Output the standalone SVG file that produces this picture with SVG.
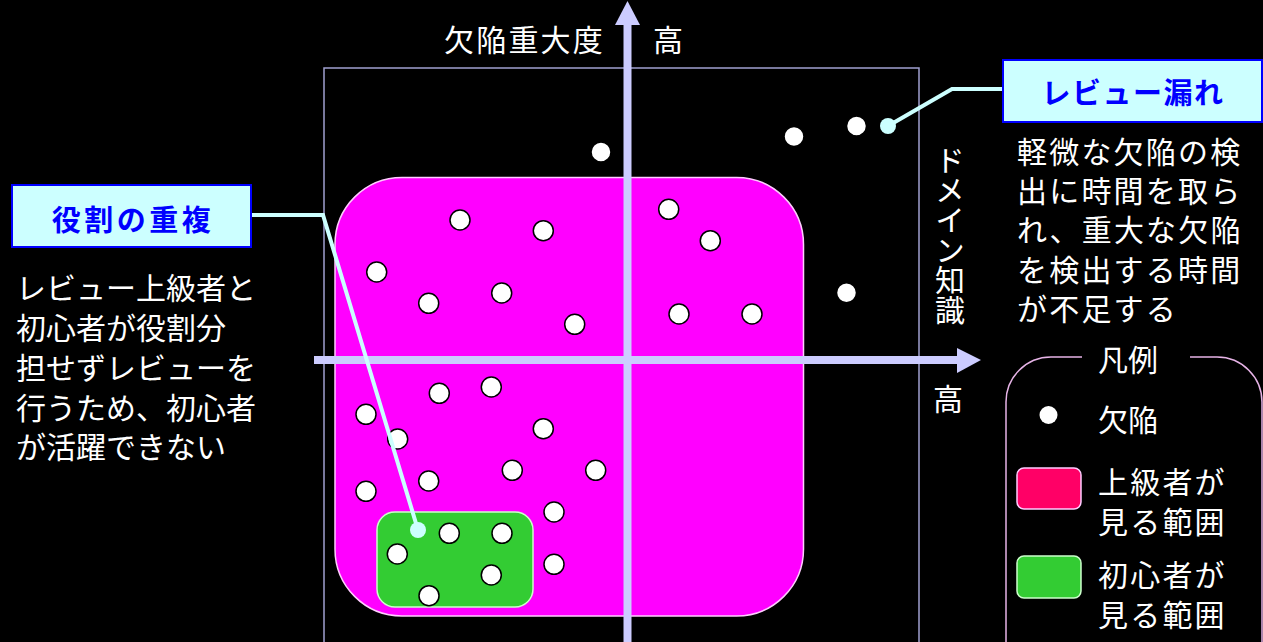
<svg xmlns="http://www.w3.org/2000/svg" width="1263" height="642" viewBox="0 0 1263 642">
<style>
.t{font-family:"Noto Sans CJK JP","Noto Sans",sans-serif;font-size:30px;fill:#ffffff}
.ls{letter-spacing:2.2px}
.ct{font-family:"Noto Sans CJK JP","Noto Sans",sans-serif;font-size:29px;font-weight:bold;fill:#0000ff;text-anchor:middle}
.dot{fill:#ffffff;stroke:#000000;stroke-width:1.5}
.ax{stroke:#ccccff;stroke-width:8;fill:none}
.cl{stroke:#ccffff;stroke-width:4;fill:none}
.cbox{fill:#ccffff;stroke:#0000ff;stroke-width:2}
</style>
<rect width="1263" height="642" fill="#000000"/>
<g id="frame">
<rect x="324" y="68" width="595" height="620" fill="none" stroke="#a0a0d0" stroke-width="1.5"/>
</g>
<g id="senior-range">
<rect x="335" y="177.5" width="468.5" height="438.5" rx="67" ry="67" fill="#ff00ff" stroke="#ffccff" stroke-width="1.5"/>
</g>
<g id="novice-range">
<rect x="377" y="512" width="156" height="95" rx="18" ry="18" fill="#33cc33" stroke="#ccffcc" stroke-width="1.5"/>
</g>
<g id="axes">
<line class="ax" x1="314" y1="360" x2="958" y2="360"/>
<polygon points="957,348 981,360 957,373" fill="#ccccff"/>
<line class="ax" x1="627.5" y1="642" x2="627.5" y2="24"/>
<polygon points="615,25 627.5,1 640,25" fill="#ccccff"/>
</g>
<g id="axis-labels">
<text class="t ls" x="444" y="51">欠陥重大度</text>
<text class="t" x="653" y="51">高</text>
<text class="t" x="950" y="145" style="writing-mode:vertical-rl">ドメイン知識</text>
<text class="t" x="933" y="410">高</text>
</g>
<g id="defects">
<circle class="dot" cx="601" cy="152" r="10"/>
<circle class="dot" cx="794" cy="136.5" r="10"/>
<circle class="dot" cx="856.5" cy="126" r="10"/>
<circle class="dot" cx="846.5" cy="292.7" r="10"/>
<circle class="dot" cx="460" cy="220" r="10"/>
<circle class="dot" cx="543.3" cy="230.7" r="10"/>
<circle class="dot" cx="376.7" cy="272" r="10"/>
<circle class="dot" cx="428.7" cy="303.3" r="10"/>
<circle class="dot" cx="501.7" cy="293" r="10"/>
<circle class="dot" cx="574.7" cy="324.3" r="10"/>
<circle class="dot" cx="668.7" cy="209.3" r="10"/>
<circle class="dot" cx="710.3" cy="240.7" r="10"/>
<circle class="dot" cx="679" cy="314" r="10"/>
<circle class="dot" cx="752" cy="314" r="10"/>
<circle class="dot" cx="439.3" cy="393.3" r="10"/>
<circle class="dot" cx="491.3" cy="387" r="10"/>
<circle class="dot" cx="366" cy="414.3" r="10"/>
<circle class="dot" cx="397.7" cy="439" r="10"/>
<circle class="dot" cx="543.3" cy="428.7" r="10"/>
<circle class="dot" cx="512.3" cy="470.3" r="10"/>
<circle class="dot" cx="595.7" cy="470.3" r="10"/>
<circle class="dot" cx="428.7" cy="481" r="10"/>
<circle class="dot" cx="366" cy="491.3" r="10"/>
<circle class="dot" cx="554" cy="512" r="10"/>
<circle class="dot" cx="554" cy="564.3" r="10"/>
<circle class="dot" cx="449.3" cy="533.3" r="10"/>
<circle class="dot" cx="502" cy="533.3" r="10"/>
<circle class="dot" cx="397.3" cy="554" r="10"/>
<circle class="dot" cx="491.3" cy="575" r="10"/>
<circle class="dot" cx="429" cy="595.7" r="10"/>
</g>
<g id="connectors">
<polyline class="cl" points="1003,89 952,89 888,126"/>
<circle cx="888" cy="126" r="8" fill="#ccffff"/>
<polyline class="cl" points="251,215 323,215 418,530"/>
<circle cx="418" cy="530" r="8" fill="#ccffff"/>
</g>
<g id="callout-review-miss">
<rect class="cbox" x="1003" y="60" width="259" height="62"/>
<text class="ct" x="1133" y="104" style="letter-spacing:1.5px">レビュー漏れ</text>
<text class="t ls"><tspan x="1017" y="163">軽微な欠陥の検</tspan><tspan x="1017" y="202">出に時間を取ら</tspan><tspan x="1017" y="241">れ、重大な欠陥</tspan><tspan x="1017" y="281">を検出する時間</tspan><tspan x="1017" y="320">が不足する</tspan></text>
</g>
<g id="callout-role-overlap">
<rect class="cbox" x="12" y="185" width="239" height="62"/>
<text class="ct" x="133" y="231" style="letter-spacing:3.5px">役割の重複</text>
<text class="t"><tspan x="16" y="299">レビュー上級者と</tspan><tspan x="16" y="339">初心者が役割分</tspan><tspan x="16" y="379">担せずレビューを</tspan><tspan x="16" y="419">行うため、初心者</tspan><tspan x="16" y="458">が活躍できない</tspan></text>
</g>
<g id="legend">
<path d="M1082,357 H1051 A45,45 0 0 0 1006,402 V700 M1190,357 H1217 A45,45 0 0 1 1262,402 V700" fill="none" stroke="#e6b3e6" stroke-width="1.5"/>
<text class="t" x="1098" y="371">凡例</text>
<circle cx="1048.5" cy="415" r="9" fill="#ffffff"/>
<text class="t" x="1098" y="431">欠陥</text>
<rect x="1017" y="468" width="64" height="41" rx="7" fill="#ff0066" stroke="#ffccff" stroke-width="1.5"/>
<text class="t ls"><tspan x="1098" y="493">上級者が</tspan><tspan x="1098" y="533">見る範囲</tspan></text>
<rect x="1017" y="556" width="64" height="42" rx="7" fill="#33cc33" stroke="#ccffcc" stroke-width="1.5"/>
<text class="t ls"><tspan x="1098" y="586">初心者が</tspan><tspan x="1098" y="626">見る範囲</tspan></text>
</g>
</svg>
